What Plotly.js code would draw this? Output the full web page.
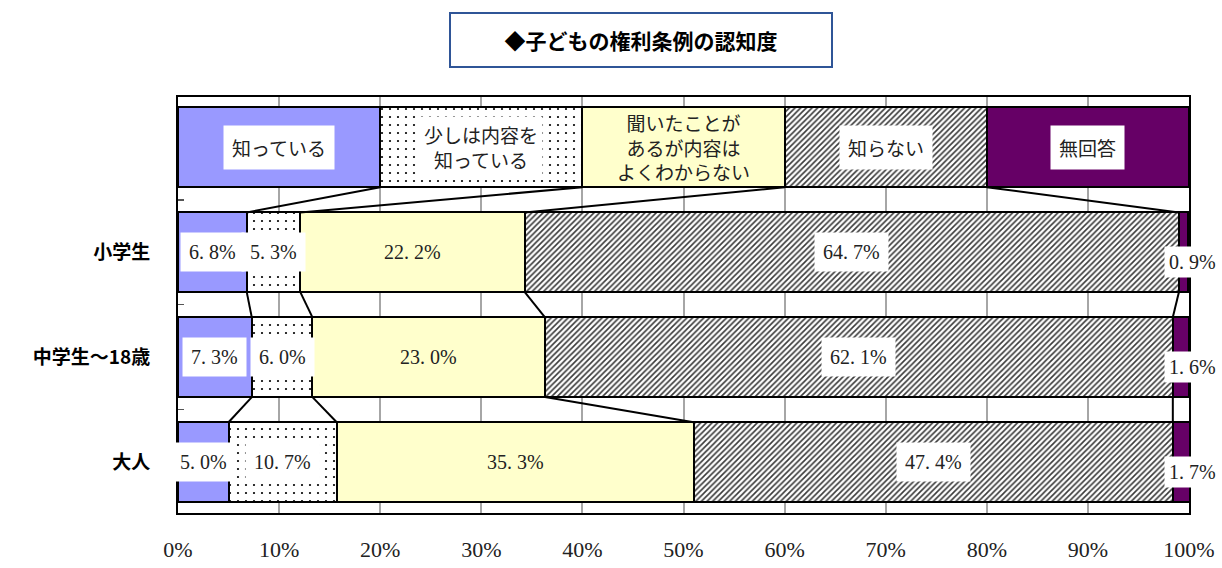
<!DOCTYPE html>
<html><head><meta charset="utf-8">
<script src="https://cdn.plot.ly/plotly-3.0.1.min.js"></script>
<style>body{margin:0;background:#fff}#c{width:1222px;height:568px}</style>
</head><body><div id="c"></div>
<script>
// rows: 0 = legend row (key), then respondent groups
const categories = ['凡例', '小学生', '中学生～18歳', '大人'];
const responses = ['知っている', '少しは内容を知っている', '聞いたことがあるが内容はよくわからない', '知らない', '無回答'];
const keyLabels = ['知っている', '少しは内容を<br>知っている', '聞いたことが<br>あるが内容は<br>よくわからない', '知らない', '無回答'];
const knows    = [20, 6.8, 7.3, 5.0];
const partly   = [20, 5.3, 6.0, 10.7];
const heard    = [20, 22.2, 23.0, 35.3];
const unknown  = [20, 64.7, 62.1, 47.4];
const noAnswer = [20, 0.9, 1.6, 1.7];
const xTicks = [0,10,20,30,40,50,60,70,80,90,100];

const series = [knows, partly, heard, unknown, noAnswer];
const ypos = categories.map((c,i)=>i);
const BW = 0.76;
const serif = 'Liberation Serif, serif';
const jp = 'Noto Sans CJK JP, sans-serif';

const styles = [
  {color:'#9999FF'},
  {color:'#FFFFFF', pattern:{shape:'.', fgcolor:'#000000', bgcolor:'#FFFFFF', size:8, solidity:0.06, fillmode:'replace'}},
  {color:'#FFFFCC'},
  {color:'#FFFFFF', pattern:{shape:'/', fgcolor:'#3a3a3a', bgcolor:'#FFFFFF', size:4, solidity:0.4, fillmode:'replace'}},
  {color:'#660066'}
];

const traces = series.map((vals, k) => ({
  type:'bar', orientation:'h', name:responses[k], y:ypos, x:vals, width:BW,
  marker:Object.assign({line:{color:'#000', width:2}}, styles[k]),
  hoverinfo:'x+name', showlegend:false
}));

// cumulative boundaries
const cum = ypos.map(i => { let s=0; return series.map(v => (s += v[i])); });

// connector lines between consecutive rows
for (let i=0;i<ypos.length-1;i++){
  for (let k=0;k<series.length-1;k++){
    traces.push({type:'scatter', mode:'lines', x:[cum[i][k], cum[i+1][k]], y:[i+BW/2, i+1-BW/2],
      line:{color:'#000', width:2}, hoverinfo:'skip', showlegend:false});
  }
}
// invisible trace for tick axis
traces.push({type:'scatter', x:[0], y:[0], yaxis:'y2', mode:'markers', marker:{opacity:0}, hoverinfo:'skip', showlegend:false});

const annotations = [];
// key row labels
let s0 = 0;
keyLabels.forEach((t,k)=>{
  const c = s0 + series[k][0]/2; s0 += series[k][0];
  annotations.push({x:c, y:0, xref:'x', yref:'y', text:t, showarrow:false,
    font:{family:jp, size:19, color:'#222'}, bgcolor: k===2 ? 'rgba(0,0,0,0)' : '#FFFFFF',
    borderpad: k===1 ? 4 : 8, align:'center'});
});
// data labels
for (let i=1;i<ypos.length;i++){
  let s=0;
  series.forEach((v,k)=>{
    const start=s; s+=v[i];
    const txt = v[i].toFixed(1).replace('.', '. ') + '%';
    const last = k===series.length-1;
    annotations.push({x: last ? 100 : start + v[i]/2, y:i, xref:'x', yref:'y', text:txt, showarrow:false,
      xshift: last ? 3 : 0, yshift: last ? -10 : 0,
      font:{family:serif, size:20, color:'#222'}, bgcolor: k===2 ? 'rgba(0,0,0,0)' : '#FFFFFF', borderpad: last ? 4 : 8});
  });
}
// title box
annotations.push({xref:'paper', yref:'paper', x:0.458, y:1.138, xanchor:'center', yanchor:'middle',
  text:'<b>◆子どもの権利条例の認知度</b>', showarrow:false, width:378, height:50,
  font:{family:jp, size:21, color:'#000'}, bordercolor:'#2F5597', borderwidth:2, bgcolor:'#fff'});

const yr = [3.485, -0.48];
const layout = {
  width:1222, height:568, margin:{l:178, r:33, t:97, b:55},
  paper_bgcolor:'#fff', plot_bgcolor:'#fff', barmode:'stack', showlegend:false,
  xaxis:{range:[0,100], tickvals:xTicks, ticktext:xTicks.map(v=>v+'%'), showgrid:true, gridcolor:'#A6A6A6', gridwidth:2,
    zeroline:false, showline:true, mirror:true, linecolor:'#000', linewidth:2, ticks:'',
    tickfont:{family:serif, size:22, color:'#222'}, ticklabelstandoff:16},
  yaxis:{range:yr, tickvals:ypos.slice(1), ticktext:categories.slice(1), showgrid:false, zeroline:false,
    showline:true, mirror:true, linecolor:'#000', linewidth:2, ticks:'',
    tickfont:{family:jp, size:19, color:'#000', weight:'bold'}, ticklabelstandoff:22},
  yaxis2:{overlaying:'y', side:'left', range:yr, tickvals:[0.5,1.5,2.5], ticks:'inside', ticklen:6, tickwidth:1.5,
    tickcolor:'#555', showticklabels:false, showgrid:false, zeroline:false, showline:false},
  annotations
};
Plotly.newPlot('c', traces, layout, {displayModeBar:false, staticPlot:true});
</script></body></html>
